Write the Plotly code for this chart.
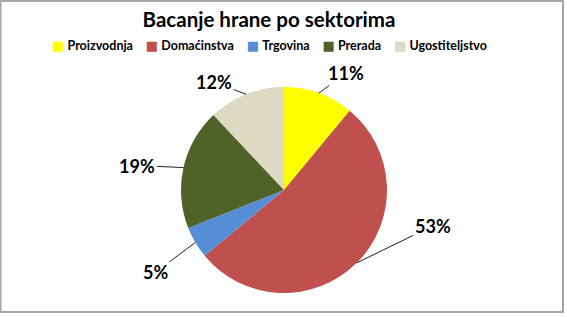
import math
import plotly.graph_objects as go

# ---- data ----
categories = ["Proizvodnja", "Domaćinstva", "Trgovina", "Prerada", "Ugostiteljstvo"]
values = [11, 53, 5, 19, 12]
colors = ["#FFFF00", "#C0504D", "#558ED5", "#4F6228", "#DDD9C3"]
title_text = "Bacanje hrane po sektorima"

# ---- layout constants ----
W, H = 567, 317
cx, cy, r = 284, 190, 103
# label text offsets (pixels) relative to slice edge point
label_offsets = [(27, -20), (76, -37), (-40, 30), (-46, -2), (-32, -12)]

dom_x = [(cx - r) / W, (cx + r) / W]
dom_y = [1 - (cy + r) / H, 1 - (cy - r) / H]

fig = go.Figure(go.Pie(
    labels=categories, values=values, sort=False, direction="clockwise",
    rotation=0, marker=dict(colors=colors, line=dict(width=0)),
    textinfo="none", hoverinfo="label+percent", showlegend=False,
    domain=dict(x=dom_x, y=dom_y),
))

total = sum(values)
annotations = []
cum = 0
for v, (ox, oy) in zip(values, label_offsets):
    mid = (cum + v / 2) / total * 2 * math.pi
    cum += v
    px = cx + r * math.sin(mid)
    py = cy - r * math.cos(mid)
    annotations.append(dict(
        x=px / W, y=1 - py / H, xref="paper", yref="paper",
        text=f"{round(v / total * 100)}%", showarrow=True,
        ax=ox, ay=oy, arrowhead=0, arrowwidth=1, arrowcolor="#222222",
        font=dict(family="Lato", size=18, color="black", weight="bold"),
        standoff=0, startstandoff=0,
    ))

# legend line built from categories/colors
gap = "&nbsp;" * 4
legend_text = gap.join(
    f"<span style='color:{c};font-family:DejaVu Sans;font-size:13px'>■</span>&nbsp;<b>{name}</b>"
    for name, c in zip(categories, colors)
)
annotations.append(dict(
    x=269 / W, y=1 - 45 / H, xref="paper", yref="paper", xanchor="center",
    yanchor="middle", showarrow=False, text=legend_text,
    font=dict(family="Lato", size=12.5, color="black"),
))

fig.update_layout(
    width=W, height=H, margin=dict(l=0, r=0, t=0, b=0),
    paper_bgcolor="white", plot_bgcolor="white",
    title=dict(text=f"<b>{title_text}</b>", x=269 / W, xanchor="center",
               y=1 - 20 / H, yanchor="middle",
               font=dict(family="Lato", size=20.5, color="black")),
    annotations=annotations,
    shapes=[dict(type="rect", xref="paper", yref="paper",
                 x0=0.5 / W, x1=563 / W, y0=1 - 312 / H, y1=1 - 1 / H,
                 line=dict(color="#A6A6A6", width=2), fillcolor="rgba(0,0,0,0)",
                 layer="below")],
)

fig.write_html("out.html")
